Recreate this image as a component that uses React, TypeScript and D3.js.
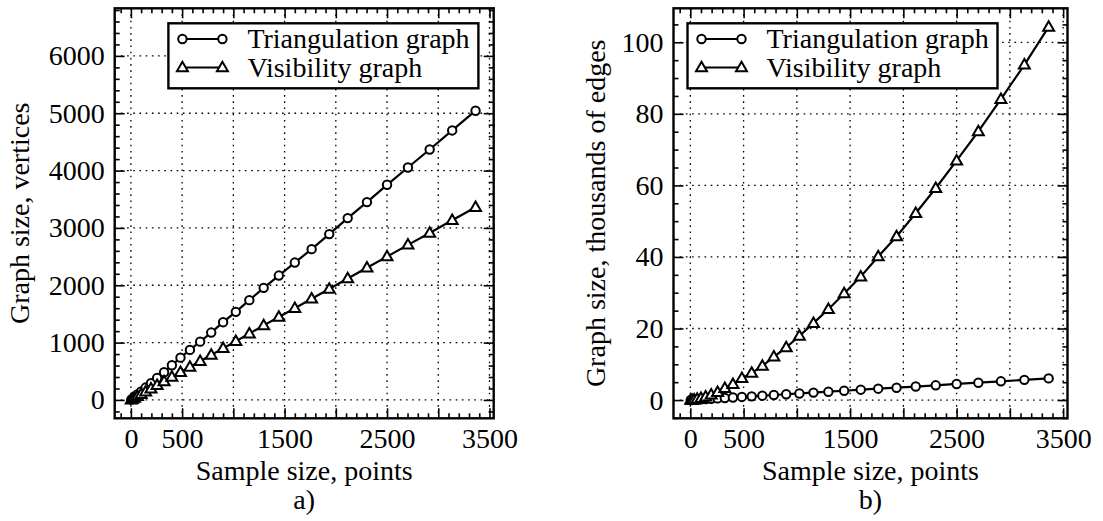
import React, { useEffect, useRef } from 'react';
import * as d3 from 'd3';

// Sample sizes (points), shared by both panels
const sampleSizes = [4, 16, 36, 64, 100, 144, 196, 256, 324, 400, 484, 576, 676, 784, 900, 1024, 1156, 1296, 1444, 1600, 1764, 1936, 2116, 2304, 2500, 2704, 2916, 3136, 3364];

// a) graph size in vertices
const triVertices = [6, 24, 54, 96, 150, 216, 294, 384, 483, 606, 738, 873, 1017, 1175, 1356, 1536, 1740, 1955, 2169, 2396, 2630, 2892, 3171, 3450, 3752, 4054, 4368, 4700, 5044];
const visVertices = [4, 16, 36, 64, 100, 144, 196, 256, 324, 400, 484, 576, 676, 784, 900, 1024, 1156, 1300, 1446, 1600, 1765, 1936, 2118, 2305, 2500, 2705, 2913, 3134, 3361];

// b) graph size in thousands of edges
const triEdges = [0.01, 0.03, 0.06, 0.11, 0.18, 0.26, 0.35, 0.46, 0.58, 0.72, 0.87, 1.04, 1.22, 1.41, 1.62, 1.84, 2.08, 2.33, 2.6, 2.9, 3.18, 3.45, 3.78, 4.12, 4.5, 4.85, 5.24, 5.65, 6.05];
const visEdges = [0.004, 0.034, 0.116, 0.27, 0.54, 0.93, 1.47, 2.2, 3.3, 4.4, 6.1, 7.6, 9.5, 12.1, 14.7, 17.9, 21.5, 25.4, 29.8, 34.5, 40.1, 45.7, 52.2, 59.2, 66.9, 75.1, 84.1, 93.7, 104.3];

// tick values
const xMajorTicks = [0, 500, 1000, 1500, 2000, 2500, 3000, 3500];
const xLabelTicks = [0, 500, 1500, 2500, 3500];
const yTicksA = [0, 1000, 2000, 3000, 4000, 5000, 6000];
const yTicksB = [0, 20, 40, 60, 80, 100];

const legendNames = ['Triangulation graph', 'Visibility graph'];

const FONT = 'Liberation Serif';
const FS = 28;

const drawPanel = (svg, cfg) => {
  const { left, right, top, bottom } = cfg;
  const x = d3.scaleLinear().domain([-158, 3541]).range([left, right]);
  const y = d3.scaleLinear().domain(cfg.yDomain).range([bottom, top]);
  const g = svg.append('g');

  // dotted grid
  g.selectAll('.vgrid').data(xMajorTicks).enter().append('line')
    .attr('x1', d => x(d)).attr('x2', d => x(d))
    .attr('y1', top).attr('y2', bottom)
    .attr('stroke', '#000').attr('stroke-width', 1.3)
    .attr('stroke-dasharray', '1.6,4.6');
  g.selectAll('.hgrid').data(cfg.yTicks).enter().append('line')
    .attr('x1', left).attr('x2', right)
    .attr('y1', d => y(d)).attr('y2', d => y(d))
    .attr('stroke', '#000').attr('stroke-width', 1.3)
    .attr('stroke-dasharray', '1.6,4.6');

  const xMinor = d3.range(-100, 3541, 100).filter(v => v % 500 !== 0);
  const yMinor = d3.range(cfg.yMinorStep * Math.ceil(cfg.yDomain[0] / cfg.yMinorStep), cfg.yDomain[1], cfg.yMinorStep)
    .filter(v => Math.abs(v % cfg.yMajorStep) > 1e-9);

  const styleAxis = sel => {
    sel.select('.domain').remove();
    sel.selectAll('line').attr('stroke', '#000').attr('stroke-width', 1.6);
    sel.attr('font-family', null).attr('font-size', null);
    sel.selectAll('text').attr('fill', '#000')
      .style('font-family', FONT).style('font-size', `${FS}px`);
  };

  // inward ticks on all four sides
  g.append('g').attr('transform', `translate(0,${bottom})`)
    .call(d3.axisBottom(x).tickValues(xMajorTicks).tickSize(-10).tickPadding(10)
      .tickFormat(d => (xLabelTicks.includes(d) ? String(d) : '')))
    .call(styleAxis);
  g.append('g').attr('transform', `translate(0,${bottom})`)
    .call(d3.axisBottom(x).tickValues(xMinor).tickSize(-5).tickFormat(() => ''))
    .call(styleAxis);
  g.append('g').attr('transform', `translate(0,${top})`)
    .call(d3.axisTop(x).tickValues(xMajorTicks).tickSize(-10).tickFormat(() => ''))
    .call(styleAxis);
  g.append('g').attr('transform', `translate(0,${top})`)
    .call(d3.axisTop(x).tickValues(xMinor).tickSize(-5).tickFormat(() => ''))
    .call(styleAxis);
  g.append('g').attr('transform', `translate(${left},0)`)
    .call(d3.axisLeft(y).tickValues(cfg.yTicks).tickSize(-10).tickPadding(10).tickFormat(d => String(d)))
    .call(styleAxis);
  g.append('g').attr('transform', `translate(${left},0)`)
    .call(d3.axisLeft(y).tickValues(yMinor).tickSize(-5).tickFormat(() => ''))
    .call(styleAxis);
  g.append('g').attr('transform', `translate(${right},0)`)
    .call(d3.axisRight(y).tickValues(cfg.yTicks).tickSize(-10).tickFormat(() => ''))
    .call(styleAxis);
  g.append('g').attr('transform', `translate(${right},0)`)
    .call(d3.axisRight(y).tickValues(yMinor).tickSize(-5).tickFormat(() => ''))
    .call(styleAxis);

  // series
  const line = d3.line().x(d => x(d[0])).y(d => y(d[1]));
  const tri = d3.symbol(d3.symbolTriangle, 52);
  cfg.series.forEach((s, i) => {
    const pts = sampleSizes.map((n, k) => [n, s[k]]);
    g.append('path').datum(pts)
      .attr('d', line).attr('fill', 'none')
      .attr('stroke', '#000').attr('stroke-width', 2.2);
    const marks = g.selectAll(`.m${i}`).data(pts).enter();
    if (i === 0) {
      marks.append('circle')
        .attr('cx', d => x(d[0])).attr('cy', d => y(d[1])).attr('r', 4.2)
        .attr('fill', '#fff').attr('stroke', '#000').attr('stroke-width', 2);
    } else {
      marks.append('path')
        .attr('d', tri)
        .attr('transform', d => `translate(${x(d[0])},${y(d[1]) + 0.6})`)
        .attr('fill', '#fff').attr('stroke', '#000').attr('stroke-width', 2);
    }
  });

  // frame
  g.append('rect')
    .attr('x', left).attr('y', top)
    .attr('width', right - left).attr('height', bottom - top)
    .attr('fill', 'none').attr('stroke', '#000').attr('stroke-width', 2.4);

  // legend
  const lx = cfg.legendX;
  const leg = g.append('g');
  leg.append('rect')
    .attr('x', lx).attr('y', 23.3).attr('width', 310).attr('height', 65)
    .attr('fill', '#fff').attr('stroke', '#000').attr('stroke-width', 2.4);
  legendNames.forEach((name, i) => {
    const ly = 39 + i * 28.5;
    leg.append('line')
      .attr('x1', lx + 14).attr('x2', lx + 54).attr('y1', ly).attr('y2', ly)
      .attr('stroke', '#000').attr('stroke-width', 2.2);
    [lx + 14, lx + 54].forEach(px => {
      if (i === 0) {
        leg.append('circle').attr('cx', px).attr('cy', ly).attr('r', 4.2)
          .attr('fill', '#fff').attr('stroke', '#000').attr('stroke-width', 2);
      } else {
        leg.append('path').attr('d', tri).attr('transform', `translate(${px},${ly + 0.6})`)
          .attr('fill', '#fff').attr('stroke', '#000').attr('stroke-width', 2);
      }
    });
    leg.append('text')
      .attr('x', lx + 79).attr('y', ly + 9.3)
      .style('font-family', FONT).style('font-size', `${FS}px`)
      .text(name);
  });

  // axis titles
  const cx = (left + right) / 2;
  g.append('text').attr('x', cx).attr('y', 480)
    .attr('text-anchor', 'middle').style('font-family', FONT).style('font-size', `${FS}px`)
    .text('Sample size, points');
  g.append('text').attr('x', cx).attr('y', 509)
    .attr('text-anchor', 'middle').style('font-family', FONT).style('font-size', `${FS}px`)
    .text(cfg.caption);
  g.append('text')
    .attr('transform', `translate(${cfg.yTitleX},${(top + bottom) / 2}) rotate(-90)`)
    .attr('text-anchor', 'middle').style('font-family', FONT).style('font-size', `${FS}px`)
    .text(cfg.yTitle);
};

const App = () => {
  const svgRef = useRef(null);

  useEffect(() => {
    const svg = d3.select(svgRef.current);
    svg.selectAll('*').remove();

    drawPanel(svg, {
      left: 114.7, right: 493.7, top: 8.3, bottom: 418.3,
      yDomain: [-320, 6830], yTicks: yTicksA, yMajorStep: 1000, yMinorStep: 200,
      series: [triVertices, visVertices],
      legendX: 168.4, yTitleX: 28.5,
      yTitle: 'Graph size, vertices', caption: 'a)',
    });

    drawPanel(svg, {
      left: 673.5, right: 1067.5, top: 8.3, bottom: 418.3,
      yDomain: [-5.1, 109.5], yTicks: yTicksB, yMajorStep: 20, yMinorStep: 5,
      series: [triEdges, visEdges],
      legendX: 687.5, yTitleX: 605,
      yTitle: 'Graph size, thousands of edges', caption: 'b)',
    });
  }, []);

  return (
    <svg
      ref={svgRef}
      width={1103}
      height={521}
      style={{ position: 'absolute', left: 0, top: 0, background: '#fff' }}
    />
  );
};

export default App;
